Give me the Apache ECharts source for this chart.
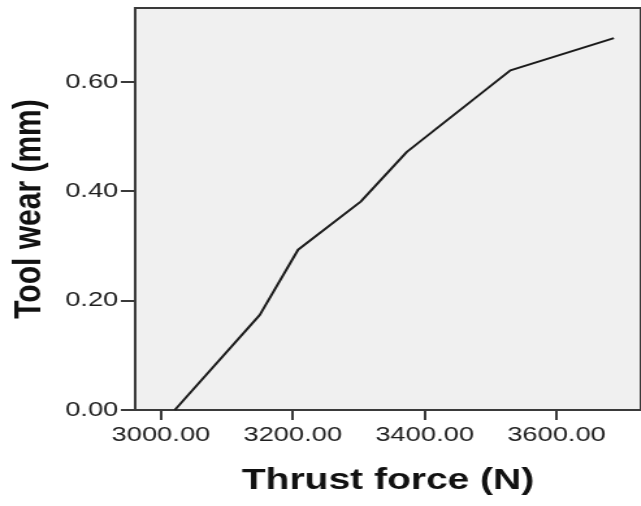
<!DOCTYPE html>
<html>
<head>
<meta charset="utf-8">
<script src="https://cdn.jsdelivr.net/npm/echarts@6/dist/echarts.min.js"></script>
<style>
  html, body { margin: 0; padding: 0; background: #fff; overflow: hidden; }
  /* the reference is stretched sideways, so draw narrow and widen it */
  #chart { width: 493px; height: 506px; transform: scaleX(1.3); transform-origin: 0 0; }
</style>
</head>
<body>
<div id="chart"></div>
<script>
const thrustForce = [3021, 3150, 3208, 3303, 3373, 3530, 3687];
const toolWear = [0, 0.174, 0.293, 0.381, 0.472, 0.621, 0.680];
const xTicks = [3000, 3200, 3400, 3600];
const yTicks = [0, 0.2, 0.4, 0.6];

const font = '"Liberation Sans", Arial, sans-serif';
const axisColor = '#3a3a3a';

const chart = echarts.init(document.getElementById('chart'), null, { renderer: 'canvas' });

chart.setOption({
  animation: false,
  grid: {
    left: 104,
    right: -3, // push the right border off the page, the reference is cut there
    top: 8,
    bottom: 96,
    show: true,
    backgroundColor: '#f0f0f0',
    borderWidth: 2,
    borderColor: axisColor,
  },
  xAxis: {
    type: 'value',
    min: 2961,
    max: 3728,
    name: 'Thrust force (N)',
    nameLocation: 'middle',
    nameGap: 56,
    nameTextStyle: { fontFamily: font, fontWeight: 'bold', fontSize: 30, color: '#111' },
    axisLine: { show: true, onZero: false, lineStyle: { color: axisColor, width: 2 } },
    axisTick: { show: true, length: 10, customValues: xTicks, lineStyle: { color: axisColor, width: 2 } },
    axisLabel: {
      customValues: xTicks,
      margin: 15,
      fontFamily: font,
      fontSize: 21,
      color: '#1e1e1e',
      formatter: (v) => v.toFixed(2),
    },
    splitLine: { show: false },
  },
  yAxis: {
    type: 'value',
    min: 0,
    max: 0.735,
    name: 'Tool wear (mm)',
    nameLocation: 'middle',
    nameGap: 66,
    nameTextStyle: { fontFamily: font, fontWeight: 'bold', fontSize: 30, color: '#111' },
    axisLine: { show: true, onZero: false, lineStyle: { color: axisColor, width: 2 } },
    axisTick: { show: true, length: 11, customValues: yTicks, lineStyle: { color: axisColor, width: 2 } },
    axisLabel: {
      customValues: yTicks,
      margin: 13,
      fontFamily: font,
      fontSize: 21,
      color: '#1e1e1e',
      formatter: (v) => v.toFixed(2),
    },
    splitLine: { show: false },
  },
  series: [
    {
      type: 'line',
      data: thrustForce.map((f, i) => [f, toolWear[i]]),
      symbol: 'none',
      lineStyle: { color: '#1a1a1a', width: 2 },
    },
  ],
});
</script>
</body>
</html>
